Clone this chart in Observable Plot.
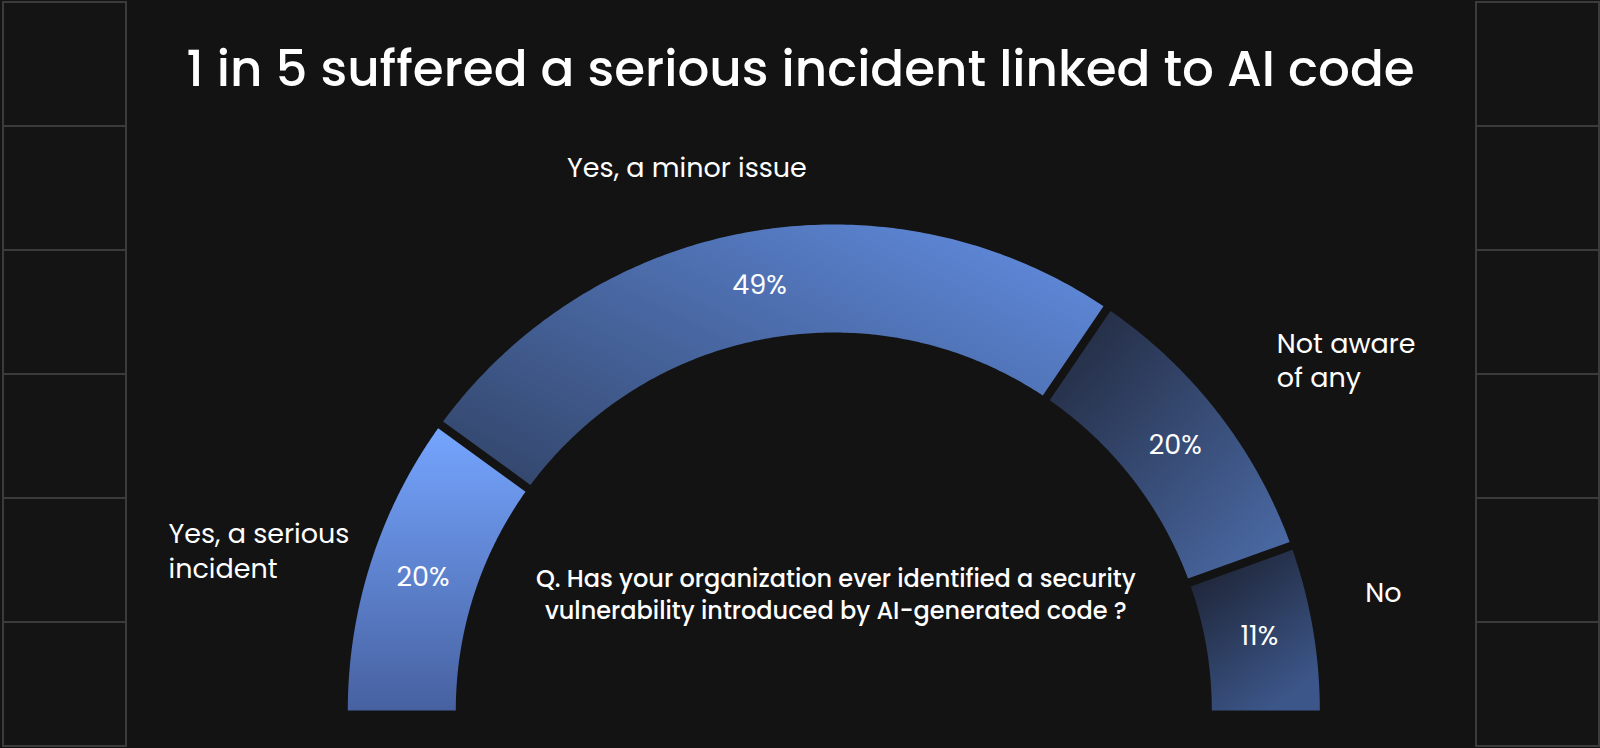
<!DOCTYPE html>
<html>
<head>
<meta charset="utf-8">
<script src="https://cdn.jsdelivr.net/npm/d3@7"></script>
<script src="https://cdn.jsdelivr.net/npm/@observablehq/plot@0.6"></script>
<style>
  html, body { margin: 0; padding: 0; background: #131313; overflow: hidden; }
  #wrap { position: relative; width: 1600px; height: 748px; }
  .panel { position: absolute; top: 1px; width: 125px; height: 746px; box-sizing: border-box;
           border-left: 2px solid #3b3b3b; border-right: 2px solid #3b3b3b; border-bottom: 2px solid #3b3b3b; }
  .cell { height: 124px; box-sizing: border-box; border-top: 2px solid #3b3b3b; background: #141414; }
  #chart { position: absolute; left: 0; top: 0; }
</style>
</head>
<body>
<div id="wrap">
  <div class="panel" style="left:2px"></div>
  <div class="panel" style="left:1475px"></div>
  <div id="chart"></div>
</div>
<script>
// ---- data ----
const title = "1 in 5 suffered a serious incident linked to AI code";
const question = "Q. Has your organization ever identified a security\nvulnerability introduced by AI-generated code ?";
const categories = ["Yes, a serious\nincident", "Yes, a minor issue", "Not aware\nof any", "No"];
const values = [20, 49, 20, 11];
const valueLabels = ["20%", "49%", "20%", "11%"];

// ---- style ----
const gradients = [
  {x1: 0, y1: 0, x2: 0, y2: 1, from: "#75a5ff", to: "#4761a0"},
  {x1: 0, y1: 1, x2: 1, y2: 0.2, from: "#314366", to: "#5e88d9"},
  {x1: 0, y1: 0, x2: 1, y2: 1, from: "#20273a", to: "#4d6eac"},
  {x1: 0, y1: 0, x2: 0.6, y2: 1, from: "#1a1e2b", to: "#3c5689"}
];
const FONT = "Poppins, Inter, 'Noto Sans', sans-serif";

// panels decoration
document.querySelectorAll(".panel").forEach(p => {
  for (let k = 0; k < 6; k++) { const c = document.createElement("div"); c.className = "cell"; p.appendChild(c); }
});

// ---- geometry derived from data ----
const R = 1, r = 378 / 486, h = 4.2 / 486;
const total = d3.sum(values);
const n = values.length;
let cum = 0;
const segs = values.map((v, i) => {
  const a0 = Math.PI * (1 - cum / total);
  cum += v;
  const a1 = Math.PI * (1 - cum / total);
  return {i, a0, a1, mid: (a0 + a1) / 2};
});
function arcPoints(s) {
  const pts = [];
  const N = 160;
  const o0 = s.a0 - (s.i > 0 ? Math.asin(h / R) : 0);
  const o1 = s.a1 + (s.i < n - 1 ? Math.asin(h / R) : 0);
  const i0 = s.a0 - (s.i > 0 ? Math.asin(h / r) : 0);
  const i1 = s.a1 + (s.i < n - 1 ? Math.asin(h / r) : 0);
  for (let k = 0; k <= N; k++) {
    const a = o0 + (o1 - o0) * k / N;
    pts.push({x: R * Math.cos(a), y: R * Math.sin(a)});
  }
  for (let k = N; k >= 0; k--) {
    const a = i0 + (i1 - i0) * k / N;
    pts.push({x: r * Math.cos(a), y: r * Math.sin(a)});
  }
  return pts;
}
const rm = (R + r) / 2;
const rl = 505 / 486;

const defsMark = () => {
  const defs = d3.create("svg:defs");
  gradients.forEach((g, i) => {
    const lg = defs.append("linearGradient").attr("id", "seg" + i)
      .attr("x1", g.x1).attr("y1", g.y1).attr("x2", g.x2).attr("y2", g.y2);
    lg.append("stop").attr("offset", 0).attr("stop-color", g.from);
    lg.append("stop").attr("offset", 1).attr("stop-color", g.to);
  });
  return defs.node();
};

const labelStyle = [
  {textAnchor: "start", dx: -185, dy: -5},
  {textAnchor: "middle", dx: -60, dy: -47},
  {textAnchor: "start", dx: 44, dy: -42},
  {textAnchor: "start", dx: 34, dy: -33}
];

const catMarks = segs.map((s, i) => Plot.text([s], {
  x: d => rl * Math.cos(d.mid), y: d => rl * Math.sin(d.mid),
  text: d => categories[d.i], fill: "white", fontSize: 27, fontFamily: FONT, fontWeight: 400,
  lineAnchor: "middle", lineHeight: 1.27, ...labelStyle[i]
}));

const chart = Plot.plot({
  width: 1600, height: 748, margin: 0,
  x: {domain: [-833.3 / 486, (1600 - 833.3) / 486], axis: null},
  y: {domain: [(710 - 748) / 486, 710 / 486], axis: null},
  style: {background: "transparent", color: "white", overflow: "visible"},
  marks: [
    defsMark,
    ...segs.map(s => Plot.line(arcPoints(s), {x: "x", y: "y", fill: `url(#seg${s.i})`, stroke: "none", curve: "linear"})),
    Plot.text(segs, {
      x: d => rm * Math.cos(d.mid), y: d => rm * Math.sin(d.mid),
      text: d => valueLabels[d.i], fill: "white", fontSize: 27, fontFamily: FONT, fontWeight: 400
    }),
    ...catMarks,
    Plot.text([question], {x: () => 0, y: () => 0, text: d => d, dx: 2, dy: -118, lineAnchor: "middle",
      lineHeight: 1.33, fill: "white", fontSize: 24, fontWeight: 500, fontFamily: FONT}),
    Plot.text([title], {frameAnchor: "top", text: d => d, dy: 85, lineAnchor: "bottom",
      fill: "white", fontSize: 50, fontWeight: 500, fontFamily: FONT})
  ]
});
document.getElementById("chart").appendChild(chart);
</script>
</body>
</html>
